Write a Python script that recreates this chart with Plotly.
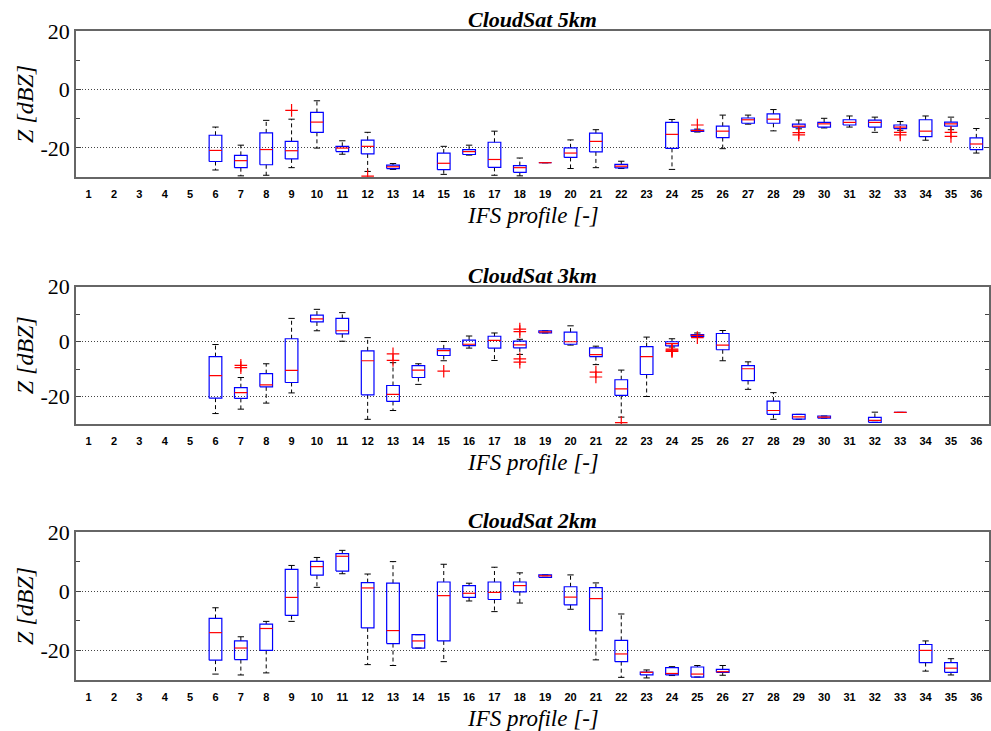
import plotly.graph_objects as go

categories = list(range(1, 37))
tick_labels = [str(c) for c in categories]
panel_titles = ["CloudSat 5km", "CloudSat 3km", "CloudSat 2km"]
x_title = "IFS profile [-]"
y_title = "Z [dBZ]"

# ---- CloudSat 5km ----
pos5 = [6, 7, 8, 9, 10, 11, 12, 13, 15, 16, 17, 18, 19, 20, 21, 22, 24, 25, 26, 27, 28, 29, 30, 31, 32, 33, 34, 35, 36]
lo5 = [-27.6, -29.6, -29.4, -26.8, -20.1, -22.2, -28.1, -27.4, -29.1, -22.5, -29.4, -29.6, -25.1, -27.1, -26.8, -27.1, -27.4, -14.6, -20.3, -11.9, -14.2, -13.5, -13.2, -12.9, -14.7, -14.0, -17.4, -13.8, -21.8]
q1_5 = [-24.7, -26.8, -25.8, -23.8, -14.7, -21.3, -22.1, -27.1, -27.5, -22.3, -26.7, -28.4, -25.1, -23.3, -21.4, -26.9, -20.2, -14.4, -16.5, -11.6, -11.6, -12.9, -12.9, -12.2, -12.9, -13.4, -16.2, -12.6, -20.6]
med5 = [-20.9, -24.4, -20.6, -21.0, -11.2, -20.1, -19.5, -26.5, -25.3, -21.3, -24.0, -26.8, -25.1, -21.8, -17.8, -26.3, -15.4, -14.1, -14.3, -10.4, -10.2, -12.6, -11.8, -11.3, -11.3, -12.9, -14.3, -11.8, -18.7]
q3_5 = [-15.7, -22.6, -14.9, -17.8, -7.9, -19.5, -17.4, -25.9, -21.8, -20.6, -18.1, -26.1, -25.1, -20.0, -15.0, -25.7, -11.3, -13.9, -12.6, -9.8, -8.4, -11.9, -11.3, -10.4, -10.5, -12.2, -10.4, -11.2, -16.6]
hi5 = [-12.9, -19.1, -10.6, -10.2, -3.9, -17.6, -14.7, -25.4, -19.5, -19.1, -14.3, -23.5, -25.1, -17.3, -13.8, -24.6, -10.3, -13.6, -8.8, -8.8, -6.9, -10.5, -9.9, -9.1, -9.5, -11.0, -9.1, -9.5, -13.4]
out5 = {9: [-7.2], 12: [-29.7], 25: [-12.2], 29: [-14.8, -15.6], 33: [-14.7, -15.6], 35: [-14.7, -16.1]}

# ---- CloudSat 3km ----
pos3 = [6, 7, 8, 9, 10, 11, 12, 13, 14, 15, 16, 17, 18, 19, 20, 21, 22, 23, 24, 25, 26, 27, 28, 29, 30, 32, 33]
lo3 = [-26.2, -24.6, -22.4, -18.7, 3.9, 0.1, -28.3, -25.1, -15.6, -7.0, -2.4, -6.9, -4.7, 3.1, -1.3, -8.4, -27.5, -20.0, -2.0, 1.7, -7.0, -17.4, -28.3, -28.3, -27.9, -29.4, -25.8]
q1_3 = [-20.6, -20.7, -16.5, -14.9, 7.1, 2.8, -19.4, -21.8, -13.1, -5.1, -1.5, -2.4, -2.3, 3.1, -1.0, -5.5, -19.6, -12.0, -1.6, 1.8, -3.0, -14.2, -26.5, -28.2, -27.9, -29.4, -25.8]
med3 = [-12.4, -18.6, -15.8, -10.5, 8.2, 3.9, -7.0, -19.2, -10.4, -3.3, -1.0, 0.4, -1.2, 3.5, -0.1, -4.8, -17.2, -5.5, -0.8, 2.2, -1.3, -9.9, -25.1, -27.4, -27.5, -28.7, -25.8]
q3_3 = [-5.5, -16.8, -11.7, 1.0, 9.6, 8.4, -3.4, -16.0, -8.8, -2.7, 0.5, 1.9, 0.1, 3.9, 3.4, -2.3, -13.9, -1.9, -0.1, 2.5, 2.9, -8.8, -21.7, -26.5, -27.1, -27.6, -25.8]
hi3 = [-1.1, -13.1, -8.1, 8.4, 11.7, 10.5, 1.4, -7.7, -8.1, 0.0, 2.0, 3.1, 0.8, 3.9, 5.7, -1.7, -10.4, 1.6, 1.0, 3.1, 4.0, -7.4, -18.6, -26.5, -27.1, -25.7, -25.8]
out3 = {7: [-8.7, -9.5], 13: [-4.5, -6.9], 15: [-10.8], 18: [4.5, 3.6, -6.3, -7.5], 21: [-11.1, -12.9], 22: [-29.5], 24: [-2.8, -3.1, -3.4, -3.6], 25: [1.4]}

# ---- CloudSat 2km ----
pos2 = [6, 7, 8, 9, 10, 11, 12, 13, 14, 15, 16, 17, 18, 19, 20, 21, 22, 23, 24, 25, 26, 34, 35]
lo2 = [-28.0, -28.3, -27.6, -10.2, 1.3, 5.9, -24.8, -25.1, -19.2, -23.8, -3.3, -6.9, -4.0, 4.7, -6.1, -23.2, -29.1, -29.3, -28.5, -29.0, -28.4, -27.0, -28.3]
q1_2 = [-23.3, -23.1, -20.0, -8.2, 5.4, 6.8, -12.4, -17.7, -19.2, -16.8, -2.1, -2.8, -0.2, 4.7, -4.6, -13.3, -23.8, -28.3, -28.3, -29.0, -27.4, -24.1, -27.4]
med2 = [-14.0, -19.2, -12.6, -2.1, 8.3, 11.8, 1.1, -13.3, -16.8, -1.5, -0.7, -0.4, 1.9, 5.2, -2.0, -2.5, -21.2, -27.4, -27.8, -28.0, -27.2, -20.0, -26.0]
q3_2 = [-9.2, -16.8, -11.1, 7.4, 10.1, 12.7, 2.9, 2.7, -14.7, 3.1, 1.9, 3.1, 3.1, 5.5, 1.5, 1.2, -16.6, -27.3, -25.8, -25.6, -26.4, -18.0, -24.1]
hi2 = [-5.6, -15.4, -10.2, 8.7, 11.4, 13.8, 5.8, 10.0, -14.7, 9.1, 2.7, 8.1, 6.2, 5.5, 5.5, 2.8, -7.7, -26.6, -25.5, -25.1, -25.1, -16.8, -22.8]
out2 = {}

panels = [
    (pos5, lo5, q1_5, med5, q3_5, hi5, out5),
    (pos3, lo3, q1_3, med3, q3_3, hi3, out3),
    (pos2, lo2, q1_2, med2, q3_2, hi2, out2),
]

H = 731.0
x_dom = [76 / 991, 989 / 991]
y_px = [(31, 177), (286.5, 424), (532, 680)]
y_doms = [[1 - b / H, 1 - t / H] for t, b in y_px]
title_px = [19, 275, 520]
xtitle_px = [215, 462, 718]

SERIF = "Liberation Serif, Times New Roman, serif"
SANS = "Liberation Sans, Arial, sans-serif"

fig = go.Figure()
hw, cw = 0.25, 0.125
for k, (pos, lo, q1, med, q3, hi, outl) in enumerate(panels):
    xa = "x" if k == 0 else f"x{k+1}"
    ya = "y" if k == 0 else f"y{k+1}"
    bx, by, mx, my, wx, wy, cx, cy = [], [], [], [], [], [], [], []
    for p, l, a, m, b, h in zip(pos, lo, q1, med, q3, hi):
        bx += [p - hw, p + hw, p + hw, p - hw, p - hw, None]
        by += [a, a, b, b, a, None]
        mx += [p - hw, p + hw, None]
        my += [m, m, None]
        wx += [p, p, None, p, p, None]
        wy += [b, h, None, a, l, None]
        cx += [p - cw, p + cw, None, p - cw, p + cw, None]
        cy += [h, h, None, l, l, None]
    ox, oy = [], []
    for p, vals in outl.items():
        for v in vals:
            ox.append(p)
            oy.append(v)
    common = dict(xaxis=xa, yaxis=ya, showlegend=False, hoverinfo="skip")
    fig.add_trace(go.Scatter(x=wx, y=wy, mode="lines", line=dict(color="black", width=1, dash="4px,3px"), **common))
    fig.add_trace(go.Scatter(x=cx, y=cy, mode="lines", line=dict(color="black", width=1), **common))
    fig.add_trace(go.Scatter(x=bx, y=by, mode="lines", line=dict(color="blue", width=1.2), **common))
    fig.add_trace(go.Scatter(x=mx, y=my, mode="lines", line=dict(color="red", width=1.2), **common))
    if ox:
        fig.add_trace(go.Scatter(x=ox, y=oy, mode="markers",
                                 marker=dict(symbol="cross-thin", size=9, color="red", line=dict(color="red", width=1.2)),
                                 **common))

layout = dict(
    template="none",
    width=991, height=731, margin=dict(l=0, r=0, t=0, b=0, pad=0, autoexpand=False),
    paper_bgcolor="white", plot_bgcolor="white", showlegend=False,
)
annotations = []
for k in range(3):
    sx = "" if k == 0 else str(k + 1)
    layout["xaxis" + sx] = dict(
        domain=x_dom, range=[0.5, 36.5], anchor="y" + sx, automargin=False,
        tickvals=categories, ticktext=tick_labels, ticks="",
        tickfont=dict(family=SANS, size=11, color="black", weight="bold"),
        ticklabelstandoff=6,
        showline=True, linecolor="#666", linewidth=1.5, mirror=True,
        showgrid=False, zeroline=False,
    )
    layout["yaxis" + sx] = dict(
        domain=y_doms[k], range=[-30, 20], anchor="x" + sx, automargin=False,
        tickvals=[-20, 0, 20], ticktext=["-20", "0", "20"],
        ticks="inside", ticklen=5, tickcolor="#444",
        tickfont=dict(family=SERIF, size=22, color="black"),
        showline=True, linecolor="#666", linewidth=1.5, mirror="ticks",
        showgrid=True, griddash="1px,2px", gridcolor="#444", gridwidth=1,
        minor=dict(tickvals=[-10, 10], ticks="inside", ticklen=4, tickcolor="#444", showgrid=False),
        zeroline=False,
    )
    cx_paper = (x_dom[0] + x_dom[1]) / 2
    annotations.append(dict(text="<b><i>" + panel_titles[k] + "</i></b>", xref="paper", yref="paper",
                            x=cx_paper, y=1 - title_px[k] / H, showarrow=False,
                            xanchor="center", yanchor="middle",
                            font=dict(family=SERIF, size=22, color="black")))
    annotations.append(dict(text="<i>" + x_title + "</i>", xref="paper", yref="paper",
                            x=cx_paper, y=1 - xtitle_px[k] / H, showarrow=False,
                            xanchor="center", yanchor="middle",
                            font=dict(family=SERIF, size=23, color="black")))
    annotations.append(dict(text="<i>" + y_title + "</i>", xref="paper", yref="paper",
                            x=25 / 991, y=(y_doms[k][0] + y_doms[k][1]) / 2, showarrow=False,
                            xanchor="center", yanchor="middle", textangle=-90,
                            font=dict(family=SERIF, size=24, color="black")))
layout["annotations"] = annotations
fig.update_layout(**layout)
fig.write_html("out.html")
